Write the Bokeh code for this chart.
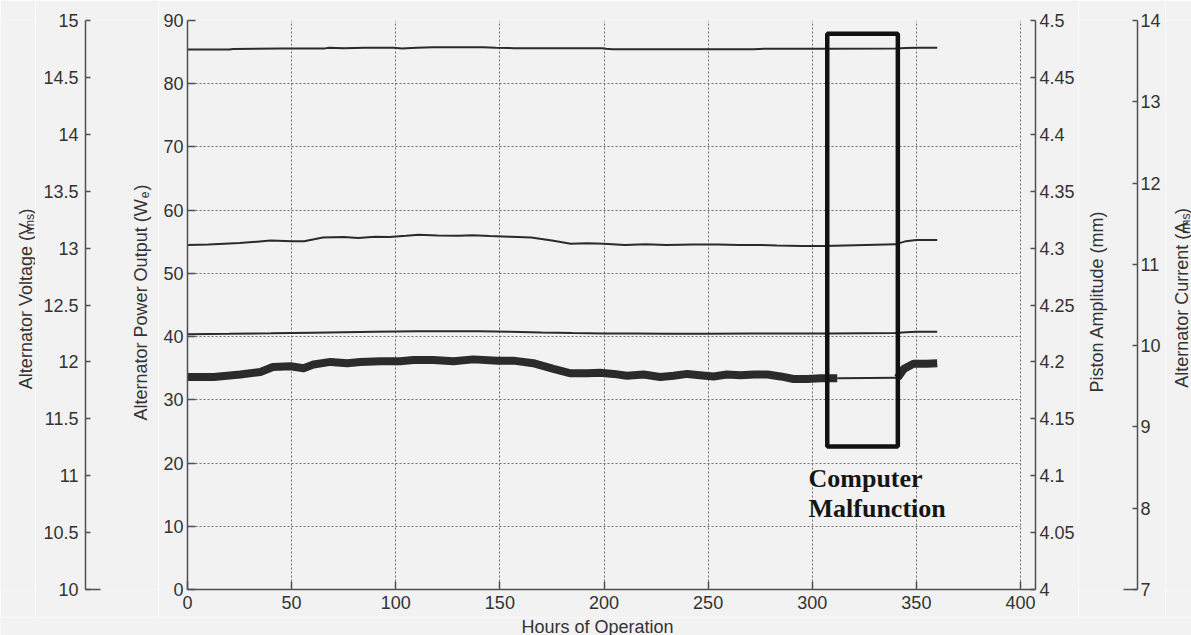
import math

from bokeh.plotting import figure
from bokeh.layouts import row, column
from bokeh.models import Range1d, LinearAxis, FixedTicker, PrintfTickFormatter, Label, Grid
from bokeh.embed import file_html
from bokeh.resources import INLINE

# ---------------- data ----------------
hour_ticks = [0, 50, 100, 150, 200, 250, 300, 350, 400]
power_ticks = [0, 10, 20, 30, 40, 50, 60, 70, 80, 90]
voltage_ticks = [10, 10.5, 11, 11.5, 12, 12.5, 13, 13.5, 14, 14.5, 15]
piston_ticks = [4.0, 4.05, 4.1, 4.15, 4.2, 4.25, 4.3, 4.35, 4.4, 4.45, 4.5]
current_ticks = [7, 8, 9, 10, 11, 12, 13, 14]

# alternator voltage (V rms)
voltage_hours = [0, 20, 22, 45, 66, 68, 75, 85, 99, 103, 110, 118, 130, 142, 148,
                 157, 180, 199, 201, 204, 240, 272, 277, 303, 308, 340, 345, 350, 360]
voltage_vrms = [14.745, 14.745, 14.750, 14.755, 14.755, 14.760, 14.757, 14.760, 14.760,
                14.755, 14.760, 14.765, 14.765, 14.765, 14.760, 14.757, 14.757, 14.757,
                14.752, 14.748, 14.748, 14.748, 14.752, 14.752, 14.752, 14.755, 14.758,
                14.760, 14.760]

# piston amplitude (mm)
piston_hours = [0, 10, 25, 40, 50, 56, 65, 75, 82, 90, 97, 105, 111, 120, 130, 137, 145,
                155, 165, 175, 184, 192, 200, 210, 220, 230, 243, 255, 265, 275, 283,
                295, 306, 340, 345, 350, 360]
piston_mm = [4.3028, 4.3031, 4.3044, 4.3067, 4.3061, 4.3061, 4.3094, 4.3097, 4.3089,
             4.3100, 4.3097, 4.3108, 4.3117, 4.3111, 4.3108, 4.3114, 4.3106, 4.3100,
             4.3094, 4.3067, 4.3039, 4.3042, 4.3039, 4.3028, 4.3033, 4.3028, 4.3031,
             4.3031, 4.3028, 4.3028, 4.3022, 4.3019, 4.3019, 4.3033, 4.3061, 4.3072,
             4.3072]

# alternator current (A rms)
current_hours = [0, 20, 40, 60, 75, 90, 110, 125, 140, 155, 170, 185, 200, 215, 230,
                 250, 270, 290, 308, 340, 345, 350, 360]
current_arms = [10.140, 10.145, 10.152, 10.160, 10.165, 10.170, 10.176, 10.178, 10.176,
                10.170, 10.162, 10.155, 10.150, 10.148, 10.146, 10.146, 10.148, 10.150,
                10.150, 10.156, 10.165, 10.170, 10.170]

# alternator power output (W), logged before and after the logging outage
power_hours_before = [0, 12.6, 25.4, 35, 41, 49.5, 55.7, 60.5, 68.7, 76.7, 83, 92.7, 102,
                      108.6, 118, 127.7, 137.3, 148.8, 156.5, 166, 175.7, 184, 192, 198,
                      204.6, 211, 219, 227, 233.4, 240, 246, 252.6, 259, 265.5, 272,
                      278.5, 284.8, 291, 297.7, 304, 312]
power_we_before = [33.6, 33.6, 34.0, 34.4, 35.2, 35.3, 35.0, 35.6, 36.0, 35.8, 36.0,
                   36.1, 36.1, 36.3, 36.3, 36.1, 36.4, 36.2, 36.2, 35.8, 34.9, 34.2,
                   34.2, 34.3, 34.1, 33.8, 34.0, 33.6, 33.8, 34.1, 33.9, 33.7, 34.0,
                   33.9, 34.0, 34.0, 33.7, 33.3, 33.3, 33.4, 33.4]
power_hours_after = [341, 344, 348.6, 355, 360]
power_we_after = [33.48, 34.9, 35.7, 35.7, 35.8]

# outage window (hours) and its marker height (W)
malfunction_start, malfunction_end = 307.2, 341.1
malfunction_low, malfunction_high = 22.6, 87.9

# ---------------- styling ----------------
BG = "#f2f2f2"
INK = "#333333"
AXIS = "#505050"
CURVE = "#2b2b2b"
GRID = "#6e6e6e"
FONT = "Liberation Sans"
TICK_SIZE = "18px"
TITLE_SIZE = 18

ROW_H = 617          # height of the chart row; a title strip fills the rest
STRIP_H = 18
FRAME_TOP, FRAME_BOTTOM = 20, 589

ARIAL = {' ': 278, '(': 333, ')': 333, 'A': 667, 'C': 722, 'H': 722, 'O': 778, 'P': 667,
         'V': 667, 'W': 944, 'a': 556, 'd': 556, 'e': 556, 'f': 278, 'g': 556, 'i': 222,
         'l': 222, 'm': 833, 'n': 556, 'o': 556, 'p': 556, 'r': 333, 's': 500, 't': 278,
         'u': 556, 'w': 722}


def text_w(s, size):
    return sum(ARIAL.get(c, 556) for c in s) * size / 1000.0


def base_fig(width, height, x_range, y_range, left=0, right=0, top=0, bottom=0):
    return figure(width=width, height=height, x_range=x_range, y_range=y_range,
                  x_axis_type=None, y_axis_type=None, toolbar_location=None,
                  output_backend="svg", min_border_left=left, min_border_right=right,
                  min_border_top=top, min_border_bottom=bottom,
                  background_fill_color=BG, border_fill_color=BG,
                  outline_line_color=None)


def axis_fig(width, x_range, y_range, left, right):
    return base_fig(width, ROW_H, x_range, y_range, left, right,
                    FRAME_TOP, ROW_H - FRAME_BOTTOM)


def style_axis(ax, ticks, tick_in, standoff):
    ax.ticker = FixedTicker(ticks=ticks)
    ax.formatter = PrintfTickFormatter(format="%g")
    ax.major_tick_in = tick_in
    ax.major_tick_out = 0
    ax.minor_tick_in = 0
    ax.minor_tick_out = 0
    ax.major_label_standoff = standoff
    ax.major_label_text_font = FONT
    ax.major_label_text_font_size = TICK_SIZE
    ax.major_label_text_color = INK
    ax.axis_line_color = AXIS
    ax.axis_line_width = 1.5
    ax.major_tick_line_color = AXIS
    ax.major_tick_line_width = 1.5
    return ax


def stub_axis(bounds):
    ax = LinearAxis(ticker=FixedTicker(ticks=[]), bounds=bounds)
    ax.axis_line_color = AXIS
    ax.axis_line_width = 1.5
    ax.major_tick_in = 0
    ax.major_tick_out = 0
    ax.minor_tick_in = 0
    ax.minor_tick_out = 0
    return ax


def vertical_title(fig, parts, x_base, y_center, y_range_name="default", size=TITLE_SIZE):
    """Upward-reading title; parts are (text, is_subscript)."""
    sizes = [size * 0.68 if sub else size for _, sub in parts]
    gaps = [1.0 if (sub or (i > 0 and parts[i - 1][1])) else 0
            for i, (_, sub) in enumerate(parts)]
    widths = [text_w(t, s) for (t, _), s in zip(parts, sizes)]
    y = y_center + (sum(widths) + sum(gaps)) / 2.0
    for (t, sub), s, w, gap in zip(parts, sizes, widths, gaps):
        y -= gap
        fig.add_layout(Label(x=x_base + (4 if sub else 0), y=y, y_range_name=y_range_name,
                             text=t, angle=math.pi / 2, text_align="left",
                             text_baseline="alphabetic", text_font=FONT,
                             text_font_size="%.1fpx" % s, text_color=INK))
        y -= w


# ---------------- voltage title strip (page x 0..35) ----------------
tv = base_fig(35, ROW_H, Range1d(0, 35), Range1d(ROW_H, 0))
vertical_title(tv, [("Alternator Voltage (V", False), ("rms", True), (")", False)], 25, 302)

# ---------------- voltage axis panel (page x 35..158) ----------------
fv = axis_fig(123, Range1d(85, 158), Range1d(10, 15), 50, 0)
fv.extra_y_ranges = {"pix": Range1d(FRAME_BOTTOM, FRAME_TOP)}
fv.add_layout(style_axis(LinearAxis(), voltage_ticks, 5, 7), "left")
fv.add_layout(stub_axis((85, 100)), "below")
vertical_title(fv, [("Alternator Power Output (W", False), ("e", True), (")", False)],
               140, 302, "pix")

# ---------------- main panel (page x 158..1078) ----------------
main = axis_fig(920, Range1d(0, 407.2), Range1d(0, 90), 29, 43)
main.extra_y_ranges = {"volt": Range1d(10, 15), "piston": Range1d(4, 4.5),
                       "amp": Range1d(7, 14), "pix": Range1d(FRAME_BOTTOM, FRAME_TOP)}
main.extra_x_ranges = {"pix": Range1d(187, 1035)}

xaxis = style_axis(LinearAxis(), hour_ticks, 8, 6)
main.add_layout(xaxis, "below")
yaxis = style_axis(LinearAxis(), power_ticks, 8, 4)
main.add_layout(yaxis, "left")
paxis = style_axis(LinearAxis(y_range_name="piston"), piston_ticks, 5, 4)
main.add_layout(paxis, "right")

xgrid = Grid(dimension=0, ticker=FixedTicker(ticks=hour_ticks))
ygrid = Grid(dimension=1, ticker=FixedTicker(ticks=power_ticks))
for g in (xgrid, ygrid):
    g.grid_line_color = GRID
    g.grid_line_dash = "2 2"
    g.grid_line_width = 1
if "cross_bounds" in Grid.properties():
    ygrid.cross_bounds = (0, 400)
main.add_layout(xgrid)
main.add_layout(ygrid)

main.line(voltage_hours, voltage_vrms, y_range_name="volt", line_color=CURVE, line_width=2)
main.line(piston_hours, piston_mm, y_range_name="piston", line_color=CURVE, line_width=2)
main.line(current_hours, current_arms, y_range_name="amp", line_color=CURVE, line_width=2)
main.line(power_hours_before, power_we_before, line_color=CURVE, line_width=8,
          line_join="round")
main.line([power_hours_before[-1], power_hours_after[0]],
          [power_we_before[-1], power_we_after[0]], line_color=CURVE, line_width=2)
main.line(power_hours_after, power_we_after, line_color=CURVE, line_width=8,
          line_join="round")

main.quad(left=[malfunction_start], right=[malfunction_end],
          bottom=[malfunction_low], top=[malfunction_high],
          fill_alpha=0, line_color="#111111", line_width=4.5)

for txt, yy in (("Computer", 478), ("Malfunction", 508)):
    main.add_layout(Label(x=808, y=yy, x_range_name="pix", y_range_name="pix", text=txt,
                          text_font="Liberation Serif", text_font_style="bold",
                          text_font_size="26px", text_align="left",
                          text_baseline="middle", text_color="#151515"))

# ---------------- current axis panel (page x 1078..1165) ----------------
fc = axis_fig(87, Range1d(1078, 1137), Range1d(7, 14), 0, 28)
fc.extra_y_ranges = {"pix": Range1d(FRAME_BOTTOM, FRAME_TOP)}
fc.add_layout(style_axis(LinearAxis(), current_ticks, 5, 3), "right")
fc.add_layout(stub_axis((1123, 1137)), "below")
vertical_title(fc, [("Piston Amplitude (mm)", False)], 1096, 301, "pix")

# ---------------- current title strip (page x 1165..1191) ----------------
tc = base_fig(26, ROW_H, Range1d(1165, 1191), Range1d(ROW_H, 0))
vertical_title(tc, [("Alternator Current (A", False), ("rms", True), (")", False)], 1181, 301)

# ---------------- x-axis title strip ----------------
strip = base_fig(1191, STRIP_H, Range1d(0, 1191), Range1d(ROW_H + STRIP_H, ROW_H))
strip.add_layout(Label(x=597, y=626, text="Hours of Operation", text_font=FONT,
                       text_font_size="%dpx" % TITLE_SIZE, text_align="center",
                       text_baseline="middle", text_color=INK))

layout = column(row(tv, fv, main, fc, tc), strip)

with open("out.html", "w") as f:
    f.write(file_html(layout, INLINE))
